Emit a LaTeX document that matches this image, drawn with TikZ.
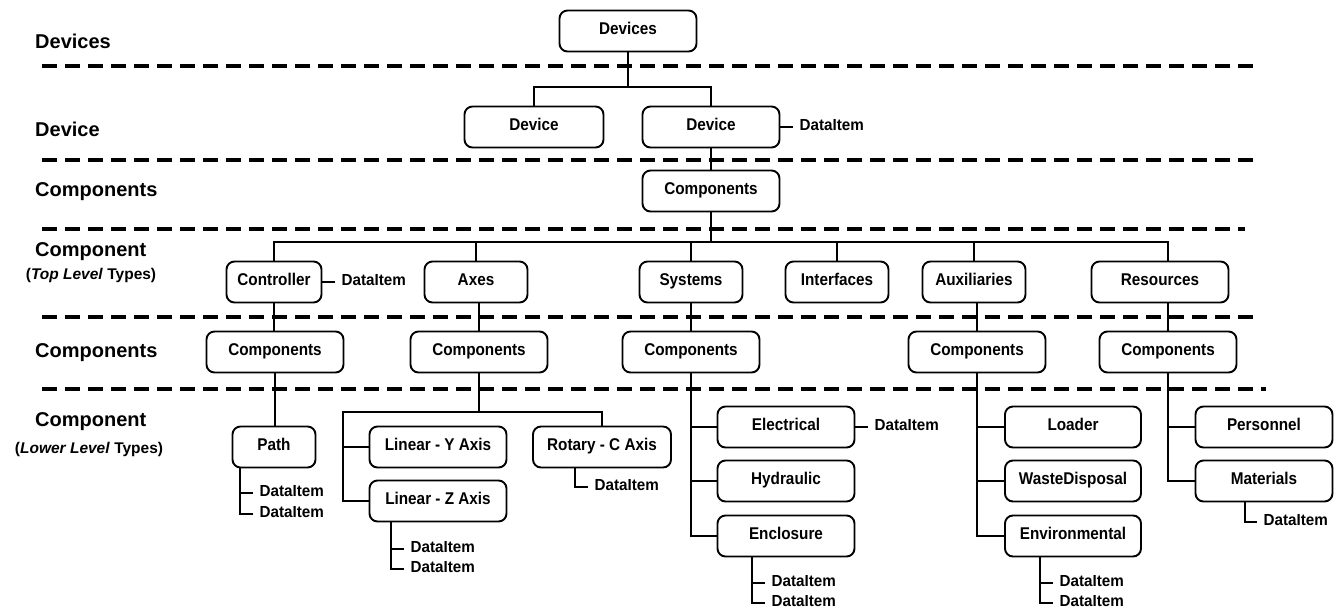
\documentclass[tikz,border=0pt]{standalone}
\usepackage{fontspec}
\setmainfont{Liberation Sans}
\newfontfamily\narrowsans{Liberation Sans}[FakeStretch=0.9]
\newfontfamily\itemsans{Liberation Sans}[FakeStretch=0.95]
\begin{document}
\begin{tikzpicture}[x=1pt,y=-1pt,
  box/.style={draw, line width=1.9pt, rounded corners=8pt, minimum height=41pt,
    inner sep=0pt, font=\narrowsans\bfseries\fontsize{17}{20}\selectfont,
    text height=0.72em, text depth=0pt},
  wide/.style={box, minimum width=137pt},
  narrow/.style={box, minimum width=103pt},
  rowlabel/.style={anchor=west, inner sep=0pt, font=\bfseries\fontsize{20}{24}\selectfont,
    text height=0.72em, text depth=0pt},
  rowsub/.style={inner sep=0pt, font=\bfseries\fontsize{15.5}{18}\selectfont,
    text height=0.72em, text depth=0pt},
  item/.style={anchor=west, inner xsep=6.5pt, inner ysep=0pt,
    font=\itemsans\bfseries\fontsize{16}{18}\selectfont, text height=0.72em, text depth=0pt},
  conn/.style={line width=1.9pt},
  divider/.style={line width=3.2pt, dash pattern=on 15pt off 8pt}]

\useasboundingbox (0,0) rectangle (1342,611);

% level separators
\draw[divider] (42,66) -- (1260,66);
\draw[divider] (42,160) -- (1258,160);
\draw[divider] (42,229) -- (1245,229);
\draw[divider] (42,317) -- (1256,317);
\draw[divider] (42,389) -- (1266,389);

% level names
\node[rowlabel] (lDevices) at (35,45) {Devices};
\node[rowlabel] (lDevice) at (35,133) {Device};
\node[rowlabel] (lComps1) at (35,193) {Components};
\node[rowlabel] (lComp1) at (35,253) {Component};
\node[rowsub] (lComp1s) at (91,276) {(\textit{Top Level} Types)};
\node[rowlabel] (lComps2) at (35,354) {Components};
\node[rowlabel] (lComp2) at (35,423) {Component};
\node[rowsub] (lComp2s) at (89,450) {(\textit{Lower Level} Types)};

% devices and device
\node[wide] (devs) at (628,31) {Devices};
\node[box, minimum width=139pt] (dev1) at (534,127) {Device};
\node[wide] (dev2) at (711,127) {Device};
\node[item] (devDI) at (793,127) {DataItem};
\node[wide] (comps0) at (711,191) {Components};

% top level component types
\node[box, minimum width=95pt] (ctrl) at (274,282) {Controller};
\node[item] (ctrlDI) at (335,282) {DataItem};
\node[narrow] (axes) at (476,282) {Axes};
\node[narrow] (sys) at (691,282) {Systems};
\node[narrow] (intf) at (837,282) {Interfaces};
\node[narrow] (aux) at (974,282) {Auxiliaries};
\node[wide] (res) at (1160,282) {Resources};

% components containers
\node[wide] (c1) at (275,352) {Components};
\node[wide] (c2) at (479,352) {Components};
\node[wide] (c3) at (691,352) {Components};
\node[wide] (c4) at (977,352) {Components};
\node[wide] (c5) at (1168,352) {Components};

% lower level component types
\node[box, minimum width=83pt] (path) at (274,447) {Path};
\node[wide] (linY) at (438,447) {Linear - Y Axis};
\node[wide] (linZ) at (438,501) {Linear - Z Axis};
\node[box, minimum width=138pt] (rotC) at (602,447) {Rotary - C Axis};

\node[wide] (elec) at (786,427) {Electrical};
\node[item] (elecDI) at (868,427) {DataItem};
\node[wide] (hyd) at (786,481) {Hydraulic};
\node[wide] (encl) at (786,536) {Enclosure};

\node[box, minimum width=136pt] (load) at (1073,427) {Loader};
\node[box, minimum width=136pt] (waste) at (1073,481) {WasteDisposal};
\node[box, minimum width=136pt] (env) at (1073,536) {Environmental};

\node[wide] (pers) at (1264,427) {Personnel};
\node[wide] (mat) at (1264,481) {Materials};

% data items below boxes
\node[item] (pathDI1) at (253,493) {DataItem};
\node[item] (pathDI2) at (253,514) {DataItem};
\node[item] (linZDI1) at (404,549) {DataItem};
\node[item] (linZDI2) at (404,569) {DataItem};
\node[item] (rotCDI) at (588,487) {DataItem};
\node[item] (enclDI1) at (765,583) {DataItem};
\node[item] (enclDI2) at (765,603) {DataItem};
\node[item] (envDI1) at (1053,583) {DataItem};
\node[item] (envDI2) at (1053,603) {DataItem};
\node[item] (matDI) at (1257,522) {DataItem};

% junction points
\coordinate (b0) at (628,87);
\coordinate (b1) at (711,242);
\coordinate (b2) at (479,412);
\coordinate (b2l) at (343,412);
\coordinate (pathT) at (240,0);
\coordinate (linZT) at (391,0);
\coordinate (rotCT) at (575,0);
\coordinate (enclT) at (752,0);
\coordinate (envT) at (1040,0);
\coordinate (matT) at (1245,0);

% tree connectors
\draw[conn] (devs.south) -- (b0);
\draw[conn] (dev1.north) |- (b0) -| (dev2.north);
\draw[conn] (dev2.south) -- (comps0.north);
\draw[conn] (dev2.east) -- (devDI.west);

\draw[conn] (comps0.south) -- (b1);
\draw[conn] (ctrl.north) |- (b1) -| (c5.north |- res.north);
\draw[conn] (axes.north) -- (axes.north |- b1);
\draw[conn] (sys.north) -- (sys.north |- b1);
\draw[conn] (intf.north) -- (intf.north |- b1);
\draw[conn] (aux.north) -- (aux.north |- b1);
\draw[conn] (ctrl.east) -- (ctrlDI.west);

\draw[conn] (ctrl.south) -- (ctrl.south |- c1.north);
\draw[conn] (c2.north |- axes.south) -- (c2.north);
\draw[conn] (sys.south) -- (c3.north);
\draw[conn] (c4.north |- aux.south) -- (c4.north);
\draw[conn] (c5.north |- res.south) -- (c5.north);

% controller branch
\draw[conn] (c1.south) -- (c1.south |- path.north);

% axes branch
\draw[conn] (c2.south) -- (b2);
\draw[conn] (linZ.west) -| (b2l) -| (rotC.north);
\draw[conn] (b2l |- linY.west) -- (linY.west);

% systems branch
\draw[conn] (c3.south) |- (encl.west);
\draw[conn] (c3.south |- elec.west) -- (elec.west);
\draw[conn] (c3.south |- hyd.west) -- (hyd.west);
\draw[conn] (elec.east) -- (elecDI.west);

% auxiliaries branch
\draw[conn] (c4.south) |- (env.west);
\draw[conn] (c4.south |- load.west) -- (load.west);
\draw[conn] (c4.south |- waste.west) -- (waste.west);

% resources branch
\draw[conn] (c5.south) |- (mat.west);
\draw[conn] (c5.south |- pers.west) -- (pers.west);

% data item brackets
\draw[conn] (pathT |- path.south) |- (pathDI2.west);
\draw[conn] (pathT |- pathDI1.west) -- (pathDI1.west);
\draw[conn] (linZT |- linZ.south) |- (linZDI2.west);
\draw[conn] (linZT |- linZDI1.west) -- (linZDI1.west);
\draw[conn] (rotCT |- rotC.south) |- (rotCDI.west);
\draw[conn] (enclT |- encl.south) |- (enclDI2.west);
\draw[conn] (enclT |- enclDI1.west) -- (enclDI1.west);
\draw[conn] (envT |- env.south) |- (envDI2.west);
\draw[conn] (envT |- envDI1.west) -- (envDI1.west);
\draw[conn] (matT |- mat.south) |- (matDI.west);
\end{tikzpicture}
\end{document}
